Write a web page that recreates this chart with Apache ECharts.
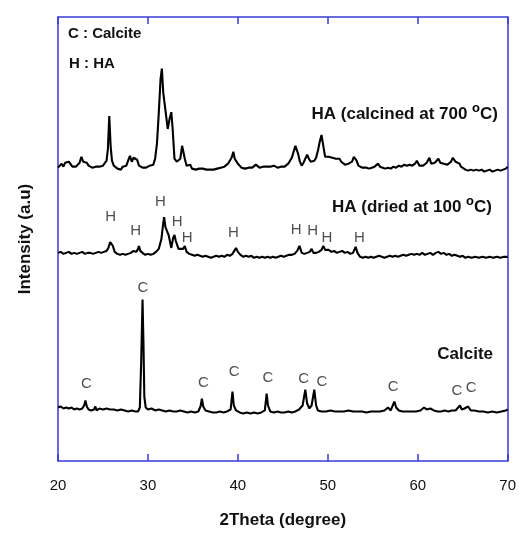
<!DOCTYPE html>
<html>
<head>
<meta charset="utf-8">
<script src="https://cdn.jsdelivr.net/npm/echarts@6/dist/echarts.min.js"></script>
<style>
  html, body { margin: 0; padding: 0; background: #fff; }
  #chart { width: 519px; height: 534px; }
</style>
</head>
<body>
<div id="chart"></div>
<script>
// 2-theta tick labels
const xTicks = [20, 30, 40, 50, 60, 70];

// Patterns are stacked with a vertical offset; values are [2theta, intensity (a.u.)]
const calcite = [
  [20.0,54],[20.3,55],[20.6,53],[20.9,54],[21.2,53],[21.5,54],[21.8,52],[22.1,53],[22.4,52],[22.7,53],
  [22.9,56],[23.05,61],[23.2,55],[23.4,52],[23.7,51],[24.0,52],[24.15,55],[24.3,51],[24.6,53],[25.0,52],
  [25.4,53],[25.8,52],[26.2,52],[26.6,51],[27.0,52],[27.4,51],[27.8,50],[28.2,51],[28.6,50],[28.9,50],
  [29.1,54],[29.25,100],[29.4,163],[29.5,120],[29.6,65],[29.75,54],[30.0,52],[30.4,53],[30.8,51],[31.2,52],
  [31.6,51],[32.0,50],[32.4,51],[32.8,50],[33.2,50],[33.6,51],[34.0,50],[34.4,49],[34.8,50],[35.2,49],
  [35.6,50],[35.85,55],[36.0,63],[36.15,55],[36.4,51],[36.8,50],[37.2,49],[37.6,49],[38.0,50],[38.4,49],
  [38.8,50],[39.2,52],[39.4,70],[39.55,56],[39.8,51],[40.2,49],[40.6,48],[41.0,49],[41.4,48],[41.8,49],
  [42.2,48],[42.6,49],[43.0,51],[43.2,68],[43.35,56],[43.6,50],[44.0,49],[44.4,50],[44.8,49],[45.2,49],
  [45.6,50],[46.0,49],[46.4,50],[46.8,52],[47.2,56],[47.5,72],[47.7,58],[47.95,53],[48.2,56],[48.5,72],
  [48.7,56],[48.9,51],[49.3,50],[49.8,50],[50.3,51],[50.8,50],[51.3,50],[51.8,50],[52.3,51],[52.8,50],
  [53.3,50],[53.8,50],[54.3,49],[54.8,50],[55.3,50],[55.8,50],[56.3,51],[56.7,54],[57.0,51],[57.4,60],
  [57.6,54],[57.9,51],[58.3,50],[58.8,50],[59.3,50],[59.8,50],[60.3,51],[60.7,54],[61.0,52],[61.4,53],
  [61.8,51],[62.2,50],[62.6,50],[63.0,51],[63.4,50],[63.8,51],[64.2,51],[64.7,56],[64.9,52],[65.2,53],
  [65.6,55],[65.9,51],[66.3,51],[66.8,50],[67.3,50],[67.8,49],[68.3,50],[68.8,49],[69.3,50],[69.8,51],
  [70.0,52]
];

const haDried = [
  [20.0,210],[20.3,211],[20.6,209],[20.9,210],[21.2,211],[21.5,209],[21.8,210],[22.1,209],[22.4,210],[22.7,211],
  [23.0,209],[23.3,210],[23.6,210],[23.9,209],[24.2,210],[24.5,211],[24.8,210],[25.1,211],[25.4,212],[25.6,215],
  [25.8,221],[25.95,222],[26.1,217],[26.3,211],[26.6,209],[26.9,208],[27.2,209],[27.5,208],[27.8,209],[28.1,210],
  [28.4,212],[28.7,211],[28.9,214],[29.0,217],[29.15,212],[29.4,210],[29.7,208],[30.0,209],[30.3,208],[30.6,209],
  [30.9,211],[31.2,214],[31.5,224],[31.7,240],[31.8,246],[31.95,236],[32.1,234],[32.3,228],[32.6,215],[32.8,225],
  [32.95,228],[33.1,222],[33.4,214],[33.6,212],[33.9,214],[34.1,217],[34.3,211],[34.6,209],[34.9,208],[35.2,207],
  [35.5,208],[35.8,207],[36.1,206],[36.4,207],[36.7,206],[37.0,205],[37.3,206],[37.6,207],[37.9,206],[38.2,207],
  [38.5,206],[38.8,208],[39.1,207],[39.4,209],[39.6,212],[39.8,215],[40.0,211],[40.3,208],[40.6,206],[40.9,207],
  [41.2,206],[41.5,207],[41.8,205],[42.1,206],[42.4,205],[42.7,206],[43.0,205],[43.3,206],[43.6,205],[43.9,206],
  [44.2,205],[44.5,206],[44.8,207],[45.1,206],[45.4,207],[45.7,208],[46.0,208],[46.3,209],[46.6,212],[46.85,217],
  [47.1,210],[47.4,209],[47.7,210],[48.0,211],[48.2,214],[48.4,210],[48.7,210],[49.0,211],[49.3,213],[49.5,217],
  [49.7,213],[49.9,212],[50.1,213],[50.4,211],[50.7,212],[51.0,210],[51.3,211],[51.6,212],[51.9,210],[52.2,211],
  [52.5,209],[52.8,210],[53.1,216],[53.3,210],[53.6,206],[53.9,205],[54.2,206],[54.5,205],[54.8,206],[55.1,205],
  [55.4,206],[55.7,207],[56.0,206],[56.3,205],[56.6,206],[56.9,207],[57.2,206],[57.5,207],[57.8,206],[58.1,207],
  [58.4,208],[58.7,207],[59.0,208],[59.3,209],[59.6,208],[59.9,209],[60.2,208],[60.5,210],[60.8,208],[61.1,209],
  [61.4,210],[61.7,208],[62.0,210],[62.3,211],[62.6,209],[62.9,210],[63.2,208],[63.5,209],[63.8,207],[64.1,208],
  [64.4,207],[64.7,206],[65.0,207],[65.3,205],[65.6,206],[66.0,205],[66.4,206],[66.8,205],[67.2,206],[67.6,205],
  [68.0,206],[68.4,205],[68.8,206],[69.2,205],[69.6,206],[70.0,206]
];

const haCalcined = [
  [20.0,296],[20.2,298],[20.4,300],[20.6,297],[20.8,301],[21.0,299],[21.2,302],[21.4,300],[21.6,297],[21.8,299],
  [22.0,297],[22.2,298],[22.4,301],[22.6,307],[22.8,302],[23.0,300],[23.2,301],[23.4,298],[23.6,299],[23.8,296],
  [24.0,298],[24.2,297],[24.4,295],[24.6,297],[24.8,296],[25.0,298],[25.2,300],[25.4,303],[25.55,315],[25.7,348],
  [25.85,318],[26.0,303],[26.2,298],[26.4,297],[26.6,295],[26.8,296],[27.0,294],[27.2,297],[27.4,296],[27.6,298],
  [27.8,303],[28.0,308],[28.2,302],[28.4,306],[28.6,308],[28.8,304],[29.0,298],[29.2,297],[29.4,296],[29.6,297],
  [29.8,296],[30.0,297],[30.2,298],[30.4,297],[30.6,299],[30.8,305],[31.0,320],[31.2,350],[31.4,385],[31.55,396],
  [31.7,372],[31.85,370],[32.0,350],[32.2,335],[32.4,345],[32.6,352],[32.75,335],[32.95,305],[33.2,302],[33.4,300],
  [33.6,305],[33.8,318],[33.95,319],[34.1,305],[34.3,298],[34.5,297],[34.7,299],[34.9,295],[35.1,296],[35.3,294],
  [35.5,296],[35.7,295],[35.9,294],[36.1,295],[36.3,293],[36.5,294],[36.7,293],[36.9,294],[37.1,293],[37.3,294],
  [37.5,293],[37.7,295],[37.9,294],[38.1,296],[38.3,295],[38.5,297],[38.7,298],[38.9,300],[39.1,302],[39.3,306],
  [39.5,312],[39.65,305],[39.8,304],[40.0,300],[40.2,298],[40.4,296],[40.6,297],[40.8,295],[41.0,297],[41.2,296],
  [41.4,298],[41.6,296],[41.8,297],[42.0,299],[42.2,297],[42.4,296],[42.6,298],[42.8,297],[43.0,299],[43.2,297],
  [43.4,298],[43.6,297],[43.8,296],[44.0,298],[44.2,297],[44.4,296],[44.6,298],[44.8,297],[45.0,299],[45.2,297],
  [45.4,298],[45.6,300],[45.8,303],[46.0,306],[46.2,312],[46.4,318],[46.5,319],[46.7,310],[46.9,302],[47.1,298],
  [47.3,301],[47.5,305],[47.7,309],[47.9,305],[48.1,302],[48.3,300],[48.5,303],[48.7,306],[48.9,313],[49.1,322],
  [49.3,329],[49.5,318],[49.7,307],[49.9,305],[50.1,307],[50.3,305],[50.5,306],[50.7,304],[50.9,305],[51.1,303],
  [51.3,305],[51.5,302],[51.7,300],[51.9,299],[52.1,298],[52.3,300],[52.5,299],[52.7,302],[52.9,307],[53.0,309],
  [53.2,303],[53.4,298],[53.6,297],[53.8,296],[54.0,295],[54.3,296],[54.6,295],[54.9,296],[55.2,297],[55.4,299],
  [55.6,300],[55.8,297],[56.1,296],[56.4,295],[56.7,296],[57.0,295],[57.3,297],[57.6,296],[57.9,298],[58.2,297],
  [58.5,299],[58.8,298],[59.1,299],[59.4,298],[59.7,300],[59.9,303],[60.0,303],[60.2,298],[60.4,300],[60.6,298],
  [60.8,299],[61.0,301],[61.3,306],[61.5,300],[61.7,298],[61.9,301],[62.1,303],[62.3,305],[62.5,301],[62.7,299],
  [62.9,300],[63.1,301],[63.3,299],[63.5,300],[63.7,302],[63.9,306],[64.0,306],[64.2,302],[64.4,300],[64.65,300],
  [64.8,297],[65.0,296],[65.3,294],[65.6,293],[65.9,294],[66.2,293],[66.5,294],[66.8,293],[67.1,294],[67.4,292],
  [67.7,293],[68.0,294],[68.3,292],[68.6,293],[68.9,294],[69.2,293],[69.5,294],[69.8,295],[70.0,297]
];

// Reflection markers: [2theta, height at which the letter sits]
const calciteMarks = [
  [23.17,78],[29.44,175],[36.18,79],[39.58,90],[43.34,84],[47.32,83],[49.35,80],[57.28,75],[64.36,71],[65.94,74]
];
const haMarks = [
  [25.86,246],[28.63,232],[31.39,261],[33.24,241],[34.35,225],[39.50,230],[46.47,233],[48.32,232],[49.90,225],[53.52,225]
];

const FONT = 'Liberation Sans, Arial, Helvetica, sans-serif';
const AXIS_BLUE = '#3b3bd6';

function traceSeries(name, data) {
  return {
    name: name, type: 'line', data: data, showSymbol: false, symbol: 'none',
    lineStyle: { color: '#000', width: 2.1 }, silent: true, z: 3
  };
}
function markSeries(letter, data) {
  return {
    type: 'scatter', data: data, symbolSize: 0, silent: true, z: 4,
    label: {
      show: true, position: 'inside', formatter: letter,
      color: '#222', fontFamily: FONT, fontSize: 15
    }
  };
}

const axisLineStyle = { show: true, onZero: false, lineStyle: { color: AXIS_BLUE, width: 1.5 } };
const tickStyle = { show: true, inside: true, length: 7, lineStyle: { color: AXIS_BLUE, width: 1.5 } };

const chart = echarts.init(document.getElementById('chart'), null, { renderer: 'canvas' });

const boldText = { fontFamily: FONT, fontWeight: 'bold', fontSize: 17, fill: '#111', lineHeight: 17 };
const supText = { fontFamily: FONT, fontWeight: 'bold', fontSize: 13, lineHeight: 13, padding: [0, 0, 12, 0] };

chart.setOption({
  animation: false,
  backgroundColor: '#fff',
  grid: { left: 58, right: 9, top: 17, bottom: 69, show: false },
  xAxis: [
    {
      type: 'value', position: 'bottom', min: 20, max: 70, interval: 10,
      name: '2Theta (degree)', nameLocation: 'middle', nameGap: 51,
      nameTextStyle: { fontFamily: FONT, fontWeight: 'bold', fontSize: 17, color: '#111' },
      axisLine: axisLineStyle,
      axisTick: tickStyle,
      axisLabel: {
        margin: 17, fontFamily: FONT, fontSize: 15, color: '#111',
        formatter: v => (xTicks.indexOf(v) >= 0 ? String(v) : '')
      },
      splitLine: { show: false }
    },
    {
      type: 'value', position: 'top', min: 20, max: 70, interval: 10,
      axisLine: axisLineStyle,
      axisTick: tickStyle,
      axisLabel: { show: false }, splitLine: { show: false }
    }
  ],
  yAxis: [
    {
      type: 'value', position: 'left', min: 0, max: 448,
      name: 'Intensity (a.u)', nameLocation: 'middle', nameGap: 24,
      nameTextStyle: { fontFamily: FONT, fontWeight: 'bold', fontSize: 17, color: '#111' },
      axisLine: axisLineStyle,
      axisTick: { show: false }, axisLabel: { show: false }, splitLine: { show: false }
    },
    {
      type: 'value', position: 'right', min: 0, max: 448,
      axisLine: axisLineStyle,
      axisTick: { show: false }, axisLabel: { show: false }, splitLine: { show: false }
    }
  ],
  series: [
    traceSeries('Calcite', calcite),
    traceSeries('HA (dried at 100 °C)', haDried),
    traceSeries('HA (calcined at 700 °C)', haCalcined),
    markSeries('C', calciteMarks),
    markSeries('H', haMarks)
  ],
  graphic: [
    { type: 'text', left: 68, top: 26, style: Object.assign({}, boldText, { text: 'C : Calcite', fontSize: 15, lineHeight: 15 }) },
    { type: 'text', left: 69, top: 56, style: Object.assign({}, boldText, { text: 'H : HA', fontSize: 15, lineHeight: 15 }) },
    {
      type: 'text', right: 21, top: 102,
      style: {
        text: '{n|HA (calcined at 700 }{s|o}{n|C)}',
        rich: { n: boldText, s: supText }
      }
    },
    {
      type: 'text', right: 27, top: 195,
      style: {
        text: '{n|HA (dried at 100 }{s|o}{n|C)}',
        rich: { n: boldText, s: supText }
      }
    },
    { type: 'text', right: 26, top: 346, style: Object.assign({}, boldText, { text: 'Calcite' }) }
  ]
});
</script>
</body>
</html>
